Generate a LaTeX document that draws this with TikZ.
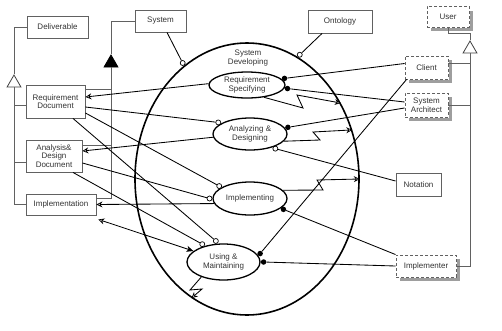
\documentclass[tikz,border=0pt]{standalone}
\usepackage{fontspec}
\setmainfont{Liberation Sans}
\usetikzlibrary{shapes.geometric,arrows.meta}
\begin{document}
\begin{tikzpicture}[x=1pt,y=-1pt,
  lbl/.style={font=\fontsize{8}{8.6}\selectfont, text=black!80, align=center},
  sbox/.style={lbl, rectangle, draw=black!62, line width=0.9pt, fill=white, inner sep=0pt},
  dbox/.style={lbl, rectangle, draw=black!62, line width=0.9pt, dash pattern=on 3pt off 2pt, fill=white, inner sep=0pt},
  envshadow/.style={draw=none, fill=black!38},
  proc/.style={lbl, ellipse, draw=black, line width=1.3pt, inner sep=0pt},
  conn/.style={draw=black, line width=0.85pt},
  tree/.style={draw=black!62, line width=0.9pt},
  hcirc/.style={circle, draw=black, line width=0.7pt, fill=white, inner sep=0pt, minimum size=5pt},
  fdot/.style={circle, fill=black, inner sep=0pt, minimum size=5.5pt},
  gtri/.style={regular polygon, regular polygon sides=3, draw=black!75, line width=0.8pt, fill=white, inner sep=0pt, minimum size=16pt},
  atri/.style={gtri, fill=black, draw=black},
  oarr/.style={-{Stealth[open,length=6pt,width=6pt,inset=2pt,line width=0.7pt]}},
  darr/.style={{Stealth[open,length=6pt,width=6pt,inset=2pt,line width=0.7pt]}-{Stealth[length=7pt,width=6pt,inset=2pt]}},
]
\useasboundingbox (0,0) rectangle (502,330);

% big process
\node[ellipse, draw=black, line width=1.6pt, minimum width=224pt, minimum height=272pt, inner sep=0pt] (sd) at (247,179) {};
\node[lbl] (sdlabel) at (248,58) {System\\Developing};

% sub-processes
\node[proc, minimum width=76pt, minimum height=26pt] (rs) at (247,85) {Requirement\\Specifying};
\node[proc, minimum width=74pt, minimum height=32pt] (ad) at (250,134) {Analyzing \&\\Designing};
\node[proc, minimum width=74pt, minimum height=33pt] (im) at (250,198.5) {Implementing};
\node[proc, minimum width=73pt, minimum height=36pt] (um) at (223.5,262) {Using \&\\Maintaining};

% solid objects
\node[sbox, minimum width=61pt, minimum height=22pt] (deliv) at (57.5,27) {Deliverable};
\node[sbox, minimum width=59pt, minimum height=33pt] (reqdoc) at (55.5,101.5) {Requirement\\Document};
\node[sbox, minimum width=56pt, minimum height=32pt] (anadoc) at (54,156) {Analysis\&\\Design\\Document};
\node[sbox, minimum width=70pt, minimum height=21pt] (impl) at (61,204.5) {Implementation};
\node[sbox, minimum width=51pt, minimum height=22pt] (system) at (160.5,21) {System};
\node[sbox, minimum width=64pt, minimum height=23pt] (onto) at (340,21.5) {Ontology};
\node[sbox, minimum width=45pt, minimum height=23pt] (notation) at (418.5,184.5) {Notation};

% environmental objects
\node[dbox, minimum width=42pt, minimum height=21pt] (user) at (448,16.5) {User};
\node[dbox, minimum width=43pt, minimum height=23pt] (client) at (426.5,67.5) {Client};
\node[dbox, minimum width=43pt, minimum height=24pt] (sysarch) at (426.5,105) {System\\Architect};
\node[dbox, minimum width=60pt, minimum height=22pt] (implementer) at (426,266) {Implementer};
% their shadows (right and bottom strips)
\path[envshadow] (469.5,10.5) rectangle (473,31);
\path[envshadow] (431,27.5) rectangle (473,31);
\path[envshadow] (448.5,60) rectangle (452,83);
\path[envshadow] (409,79.5) rectangle (452,83);
\path[envshadow] (448.5,97) rectangle (452,121);
\path[envshadow] (409,117.5) rectangle (452,121);
\path[envshadow] (456.5,259) rectangle (460,281);
\path[envshadow] (400,277.5) rectangle (460,281);

% generalization: Deliverable
\node[gtri] (gl) at (14,83) {};
\draw[tree] (deliv.west) -| (gl.corner 1);
\draw[tree] (gl.side 2) |- (impl.west);
\draw[tree] ([yshift=-3.5pt]reqdoc.west) -| (gl.side 2);
\draw[tree] ([yshift=-6pt]anadoc.west) -| (gl.side 2);

% aggregation: System
\node[atri] (ga) at (111,63) {};
\draw[tree] (system.west) -| (ga.corner 1);
\draw[tree] (ga.side 2) |- ([yshift=6.5pt]impl.east);
\draw[tree] ([yshift=12.5pt]reqdoc.east) -| (ga.side 2);
\draw[tree] ([yshift=11pt]anadoc.east) -| (ga.side 2);

% generalization: User
\node[gtri] (gu) at (470,49) {};
\draw[tree] (user.south) -- ++(0,6) -| (gu.corner 1);
\draw[tree] (gu.side 2) |- (implementer.east);
\draw[tree] ([yshift=4pt]client.east) -| (gu.side 2);
\draw[tree] (sysarch.east) -| (gu.side 2);

% link end markers
\node[hcirc, anchor=-61] (csys) at (sd.119) {};
\node[hcirc, anchor=-113] (conto) at (sd.67) {};
\node[hcirc, anchor=-20] (cad1) at (ad.160) {};
\node[hcirc, anchor=150] (cad2) at (ad.-30) {};
\node[hcirc, anchor=-22] (cim1) at (im.158) {};
\node[hcirc, anchor=0] (cim2) at (im.180) {};
\node[hcirc, anchor=-70] (cum1) at (um.110) {};
\node[hcirc, anchor=-40] (cum2) at (um.140) {};
\node[fdot, anchor=190] (drs1) at (rs.10) {};
\node[fdot, anchor=175] (drs2) at (rs.-5) {};
\node[fdot, anchor=190] (dad) at (ad.10) {};
\node[fdot, anchor=162] (dim) at (im.-18) {};
\node[fdot, anchor=193] (dum1) at (um.13) {};
\node[fdot, anchor=180] (dum2) at (um.0) {};

% result / effect arrows to documents
\draw[conn, oarr] (rs.178) -- ([yshift=4.5pt]reqdoc.east);
\draw[conn, oarr] (ad.185) -- ([yshift=5pt]anadoc.east);
\draw[conn, oarr] (im.188) -- (impl.east);
\draw[conn, darr] ([shift={(2pt,-4pt)}]impl.south east) -- (um.160);

% instrument links
\draw[conn] ([yshift=-5.5pt]reqdoc.east) -- (cad1);
\draw[conn] ([yshift=-11.5pt]reqdoc.east) -- (cim1);
\draw[conn] ([xshift=17.5pt]reqdoc.south) -- (cum1);
\draw[conn] ([yshift=-7pt]anadoc.east) -- (cim2);
\draw[conn] ([xshift=19pt]anadoc.south) -- (cum2);
\draw[conn] ([xshift=6.5pt]system.south) -- (csys);
\draw[conn] ([xshift=-18pt]onto.south) -- (conto);
\draw[conn] ([yshift=3.5pt]notation.west) -- (cad2);

% agent links
\draw[conn] ([yshift=4pt]client.west) -- (drs1);
\draw[conn] ([yshift=3pt]sysarch.west) -- (drs2);
\draw[conn] ([yshift=-3pt]sysarch.west) -- (dad);
\draw[conn] (implementer.north west) -- (dim);
\draw[conn] ([xshift=2pt]client.south west) -- (dum1);
\draw[conn] (implementer.west) -- (dum2);

% invocation links
\draw[conn, oarr] (rs.-36) -- (303,108) -- (297,95) -- (sd.39);
\draw[conn, oarr] (ad.-12) -- (320,140) -- (313,132) -- (sd.25);
\draw[conn, oarr] (im.14) -- (323,190) -- (317,180) -- (sd.0);
\draw[conn, oarr] (um.-146) -- (190,290) -- (202,289) -- (sd.245);

\end{tikzpicture}
\end{document}
